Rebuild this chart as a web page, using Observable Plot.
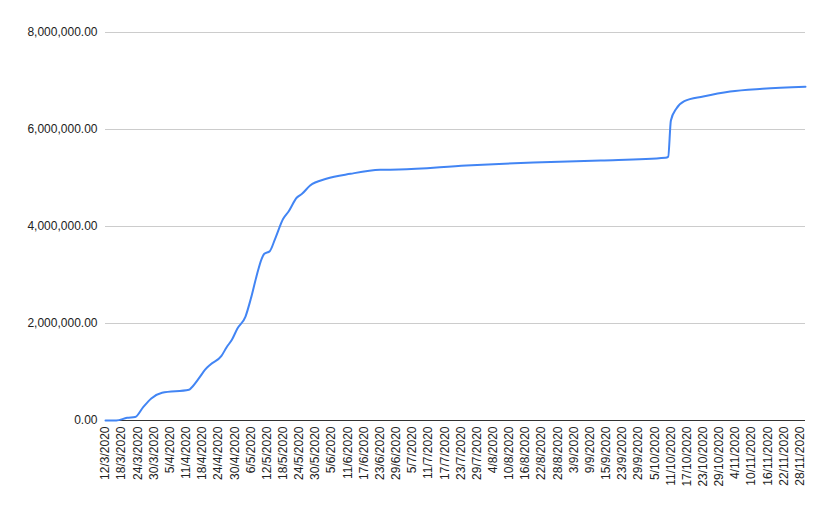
<!DOCTYPE html>
<html>
<head>
<meta charset="utf-8">
<script src="https://cdn.jsdelivr.net/npm/d3@7"></script>
<script src="https://cdn.jsdelivr.net/npm/@observablehq/plot@0.6"></script>
<style>
  html, body { margin: 0; padding: 0; background: #fff; }
  #chart svg { display: block; }
</style>
</head>
<body>
<div id="chart"></div>
<script>
// Category tick labels (every 6th row of the sheet)
const tickLabels = [
  "12/3/2020","18/3/2020","24/3/2020","30/3/2020","5/4/2020","11/4/2020","18/4/2020",
  "24/4/2020","30/4/2020","6/5/2020","12/5/2020","18/5/2020","24/5/2020","30/5/2020",
  "5/6/2020","11/6/2020","17/6/2020","23/6/2020","29/6/2020","5/7/2020","11/7/2020",
  "17/7/2020","23/7/2020","29/7/2020","4/8/2020","10/8/2020","16/8/2020","22/8/2020",
  "28/8/2020","3/9/2020","9/9/2020","15/9/2020","23/9/2020","29/9/2020","5/10/2020",
  "11/10/2020","17/10/2020","23/10/2020","29/10/2020","4/11/2020","10/11/2020",
  "16/11/2020","22/11/2020","28/11/2020"
];

// Row index of each read point and its value
const rowIndex = [0, 4, 8, 11, 14, 17, 21, 31, 32, 35, 37, 39, 43, 45, 47, 49, 52, 54, 56, 58, 59, 61, 63, 66, 68, 71, 73, 76, 82, 91, 102, 109, 134, 159, 184, 208, 209, 210, 212, 215, 222, 232, 244, 260];
const values   = [0, 0, 55000, 70000, 274000, 454000, 571000, 633000, 680000, 893000, 1050000, 1155000, 1326000, 1511000, 1670000, 1897000, 2144000, 2515000, 2955000, 3334000, 3437000, 3490000, 3746000, 4159000, 4309000, 4592000, 4674000, 4845000, 4984000, 5087000, 5169000, 5175000, 5258000, 5320000, 5360000, 5417000, 5440000, 6186000, 6427000, 6584000, 6680000, 6784000, 6840000, 6880000];

const yTicks = [0, 2000000, 4000000, 6000000, 8000000];

const data = rowIndex.map((r, i) => ({row: r, value: values[i]}));
const fmt = d3.format(",.2f");

const chart = Plot.plot({
  width: 831,
  height: 514,
  marginLeft: 105,
  marginRight: 26,
  marginTop: 32,
  marginBottom: 94,
  style: {fontFamily: "Arial, 'Liberation Sans', sans-serif", fontSize: "12px", color: "#222", background: "#fff"},
  x: {domain: [0, 260]},
  y: {domain: [0, 8000000]},
  marks: [
    Plot.gridY(yTicks, {stroke: "#cccccc", strokeOpacity: 1}),
    Plot.axisY(yTicks, {tickSize: 0, tickPadding: 8, tickFormat: fmt, label: null, fontSize: 12}),
    Plot.axisX(tickLabels.map((_, i) => i * 6), {
      tickSize: 0, tickPadding: 6, tickRotate: -90, label: null, fontSize: 12,
      tickFormat: d => tickLabels[d / 6]
    }),
    Plot.ruleY([0], {stroke: "#333333", strokeWidth: 1}),
    Plot.lineY(data, {x: "row", y: "value", stroke: "#4285F4", strokeWidth: 2, curve: "monotone-x"})
  ]
});
document.getElementById("chart").appendChild(chart);
</script>
</body>
</html>
